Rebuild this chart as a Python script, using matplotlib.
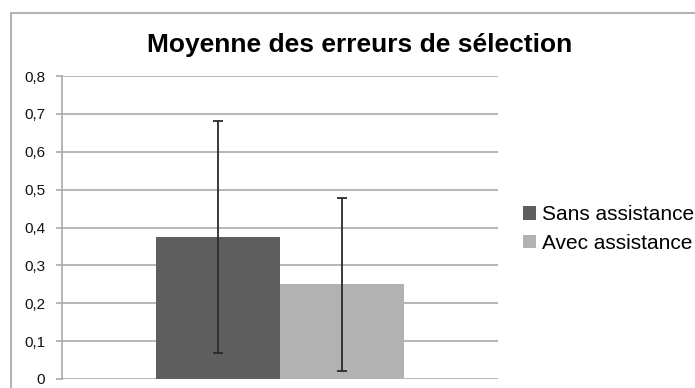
import matplotlib
matplotlib.use("Agg")
import matplotlib.pyplot as plt
from matplotlib.patches import Rectangle
from matplotlib.ticker import FuncFormatter

plt.rcParams['font.family'] = ['Liberation Sans', 'DejaVu Sans']

series = ["Sans assistance", "Avec assistance"]
means = [0.375, 0.25]
errors = [0.306, 0.228]
colors = ["#5e5e5e", "#b2b2b2"]
yticks = [0, 0.1, 0.2, 0.3, 0.4, 0.5, 0.6, 0.7, 0.8]
title = "Moyenne des erreurs de sélection"

W, H = 695, 388
fig = plt.figure(figsize=(W / 100, H / 100), dpi=100)

# outer chart frame
fig.patches.append(Rectangle((11 / W, -0.1), 1.2, (H - 12.5) / H + 0.1,
                             transform=fig.transFigure, fill=False,
                             edgecolor="#b4b4b4", linewidth=1.5))

ax = fig.add_axes([62 / W, (H - 379) / H, (498 - 62) / W, (379 - 76) / H])

width = 124 / 436
offsets = [-width / 2, width / 2]
for name, m, e, c, off in zip(series, means, errors, colors, offsets):
    ax.bar(off, m, width=width, color=c, label=name, zorder=2)
    ax.errorbar(off, m, yerr=e, fmt="none", ecolor="#2a2a2a",
                elinewidth=1.3, capsize=3.5, capthick=1.3, zorder=3)

ax.set_xlim(-0.5, 0.5)
ax.set_ylim(0, 0.8)
ax.set_yticks(yticks)
ax.yaxis.set_major_formatter(FuncFormatter(lambda v, p: f"{v:.1f}".replace(".", ",") if v else "0"))
ax.set_xticks([])
ax.grid(axis="y", color="#a9a9a9", linewidth=1.2, zorder=0)
for s in ["top", "right", "bottom"]:
    ax.spines[s].set_visible(False)
ax.spines["left"].set_color("#a9a9a9")
ax.spines["left"].set_linewidth(1.2)
ax.tick_params(axis="y", length=4, width=1.2, color="#a9a9a9",
               labelsize=11, pad=8, labelcolor="#111111")

fig.text(360 / W, 1 - 45 / H, title, ha="center", va="center",
         fontsize=19, fontweight="bold", color="#000000")

ax.legend(loc="center left", bbox_to_anchor=(515 / W, 1 - 229 / H),
          bbox_transform=fig.transFigure, frameon=False, fontsize=15,
          handlelength=0.6, handleheight=0.6, handletextpad=0.3,
          labelspacing=0.45, borderaxespad=0)

fig.savefig("out.png", dpi=100)
